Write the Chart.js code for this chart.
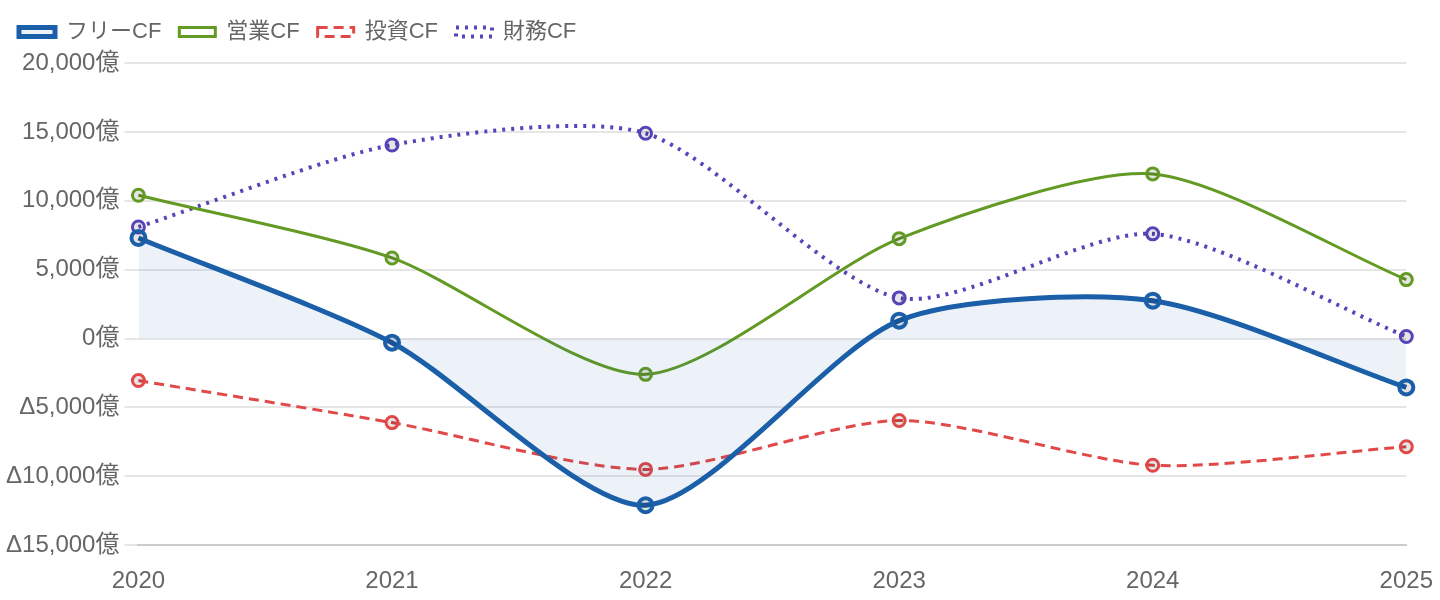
<!DOCTYPE html>
<html lang="ja">
<head>
<meta charset="utf-8">
<title>キャッシュフロー推移</title>
<script src="https://cdn.jsdelivr.net/npm/chart.js@4"></script>
<style>
  html, body { margin: 0; padding: 0; background: #fff; }
  #wrap { width: 1440px; height: 600px; }
</style>
</head>
<body>
<div id="wrap"><canvas id="graph"></canvas></div>
<script>
const years = ["2020", "2021", "2022", "2023", "2024", "2025"];
const freeCF = [7300, -300, -12100, 1300, 2750, -3550];
const eigyoCF = [10400, 5850, -2600, 7250, 11950, 4280];
const toshiCF = [-3050, -6100, -9500, -5950, -9200, -7850];
const zaimuCF = [8100, 14050, 14900, 2950, 7600, 150];
const yTicks = [-15000, -10000, -5000, 0, 5000, 10000, 15000, 20000];

Chart.defaults.font.family = "'Liberation Sans', 'Noto Sans CJK JP', sans-serif";
Chart.defaults.font.size = 24;
Chart.defaults.color = "#666";

function fmtOku(v) {
    if (v < 0) return "Δ" + Math.abs(v).toLocaleString("ja-JP") + "億";
    return v.toLocaleString("ja-JP") + "億";
}

// 凡例とグラフの間を少し空ける
const legendSpacer = {
    id: "legendSpacer",
    beforeInit(chart) {
        const origFit = chart.legend.fit;
        chart.legend.fit = function () {
            origFit.bind(chart.legend)();
            this.height += 10;
        };
    }
};

const ctx = document.getElementById("graph");

const data = {
    labels: years,
    datasets: [
        {
            label: "フリーCF",
            data: freeCF,
            borderColor: "rgb(26,95,168)",
            backgroundColor: "rgba(26,95,168,0.08)",
            borderWidth: 5,
            pointRadius: 7,
            pointBorderWidth: 4,
            pointBackgroundColor: "rgba(0,0,0,0.1)",
            fill: "origin",
            tension: 0.25
        },
        {
            label: "営業CF",
            data: eigyoCF,
            borderColor: "rgb(98,154,36)",
            backgroundColor: "#fff",
            borderWidth: 3,
            pointRadius: 6,
            pointBorderWidth: 3,
            pointBackgroundColor: "rgba(0,0,0,0.1)",
            fill: false,
            tension: 0.25
        },
        {
            label: "投資CF",
            data: toshiCF,
            borderColor: "rgb(225,72,72)",
            backgroundColor: "#fff",
            borderWidth: 3,
            borderDash: [10, 6],
            pointRadius: 6,
            pointBorderWidth: 3,
            pointBackgroundColor: "rgba(0,0,0,0.1)",
            fill: false,
            tension: 0.25
        },
        {
            label: "財務CF",
            data: zaimuCF,
            borderColor: "rgb(88,68,185)",
            backgroundColor: "#fff",
            borderWidth: 4,
            borderDash: [3, 6],
            pointRadius: 6,
            pointBorderWidth: 3,
            pointBackgroundColor: "rgba(0,0,0,0.1)",
            fill: false,
            tension: 0.25
        }
    ]
};

const config = {
    type: "line",
    data: data,
    plugins: [legendSpacer],
    options: {
        responsive: true,
        maintainAspectRatio: false,
        animation: false,
        layout: { padding: { left: 1, right: 0, top: 3, bottom: -3 } },
        plugins: {
            legend: {
                position: "top",
                align: "start",
                labels: {
                    boxWidth: 36,
                    boxHeight: 9,
                    padding: 18,
                    font: { size: 22 }
                }
            },
            tooltip: { enabled: false }
        },
        scales: {
            x: {
                offset: false,
                grid: { display: false, tickLength: 15 },
                border: { display: true, color: "#ccc", width: 2 },
                ticks: { padding: 7 }
            },
            y: {
                min: -15000,
                max: 20000,
                afterBuildTicks: (axis) => {
                    axis.ticks = yTicks.map(v => ({ value: v }));
                },
                grid: { color: "#e6e6e6", lineWidth: 2, tickLength: 14 },
                border: { display: false },
                ticks: {
                    padding: 5,
                    callback: (v) => fmtOku(v)
                }
            }
        }
    }
};

new Chart(ctx, config);
</script>
</body>
</html>
